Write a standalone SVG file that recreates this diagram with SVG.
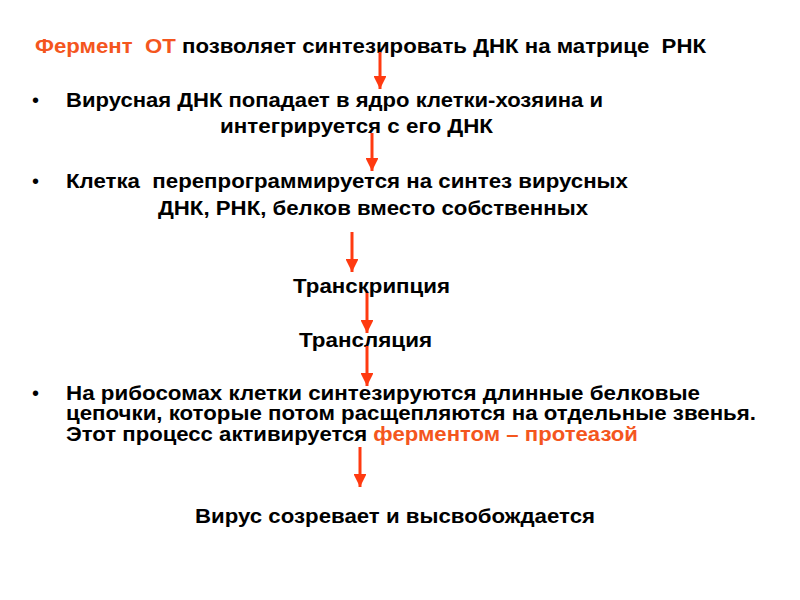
<svg xmlns="http://www.w3.org/2000/svg" width="800" height="600" viewBox="0 0 800 600">
<style>
text{font-family:"Liberation Sans",Arial,sans-serif;font-weight:bold;font-size:20px;fill:#000;white-space:pre}
text.b{font-size:20px;font-weight:normal}
.o{fill:#F4561E}
.a{fill:none;stroke:#FF3A10;stroke-width:3}
.h{fill:#FF3A10}
</style>
<defs>
<marker id="ah" viewBox="0 0 10 10" refX="10" refY="5" markerWidth="4.3" markerHeight="4.3" orient="auto" markerUnits="strokeWidth">
<path d="M0,0 L10,5 L0,10 z" class="h"/>
</marker>
</defs>
<rect width="800" height="600" fill="#fff"/>
<g id="n1"><text x="35" y="53" textLength="671" lengthAdjust="spacingAndGlyphs" xml:space="preserve"><tspan class="o">Фермент  ОТ</tspan> позволяет синтезировать ДНК на матрице  РНК</text></g>
<g id="n2"><text class="b" x="32" y="107">•</text><text x="66" y="107" textLength="537" lengthAdjust="spacingAndGlyphs">Вирусная ДНК попадает в ядро клетки-хозяина и</text>
<text x="220" y="133" textLength="273" lengthAdjust="spacingAndGlyphs">интегрируется с его ДНК</text></g>
<g id="n3"><text class="b" x="32" y="188">•</text><text x="66" y="188" textLength="562" lengthAdjust="spacingAndGlyphs" xml:space="preserve">Клетка  перепрограммируется на синтез вирусных</text>
<text x="158" y="215" textLength="430" lengthAdjust="spacingAndGlyphs">ДНК, РНК, белков вместо собственных</text></g>
<g id="n4"><text x="293" y="293" textLength="157" lengthAdjust="spacingAndGlyphs">Транскрипция</text></g>
<g id="n5"><text x="299" y="347" textLength="133" lengthAdjust="spacingAndGlyphs">Трансляция</text></g>
<g id="n6"><text class="b" x="32" y="400">•</text><text x="66" y="400" textLength="634" lengthAdjust="spacingAndGlyphs">На рибосомах клетки синтезируются длинные белковые</text>
<text x="66" y="420" textLength="690" lengthAdjust="spacingAndGlyphs">цепочки, которые потом расщепляются на отдельные звенья.</text>
<text x="66" y="441" textLength="572" lengthAdjust="spacingAndGlyphs">Этот процесс активируется <tspan class="o">ферментом – протеазой</tspan></text></g>
<g id="n7"><text x="195" y="523" textLength="400" lengthAdjust="spacingAndGlyphs">Вирус созревает и высвобождается</text></g>
<g id="connectors">
<path class="a" d="M380,52 V89" marker-end="url(#ah)"/>
<path class="a" d="M372,133 V171" marker-end="url(#ah)"/>
<path class="a" d="M352,232 V272" marker-end="url(#ah)"/>
<path class="a" d="M367,293 V333" marker-end="url(#ah)"/>
<path class="a" d="M367,346 V386" marker-end="url(#ah)"/>
<path class="a" d="M360,447 V487" marker-end="url(#ah)"/>
</g>
</svg>
